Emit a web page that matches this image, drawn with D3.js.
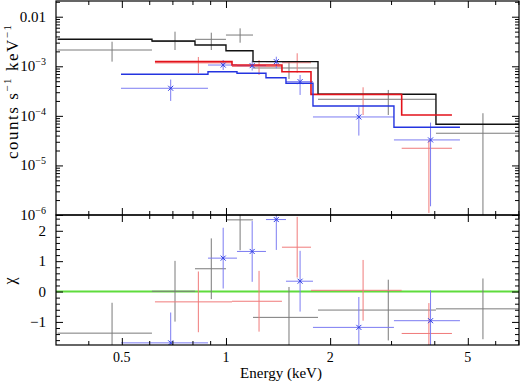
<!DOCTYPE html>
<html>
<head>
<meta charset="utf-8">
<script src="https://cdn.jsdelivr.net/npm/d3@7"></script>
<style>
body { margin: 0; background: #fff; }
svg { display: block; }
text { font-family: "Liberation Serif", "Times New Roman", serif; font-size: 14px; fill: #000; }
</style>
</head>
<body>
<div id="chart"></div>
<script>

// bin edges (keV), model, data rate with error bounds, and chi residuals
var blackEdges = [0.326, 0.611, 0.8136, 1.0, 1.197, 1.845, 4.045, 7.015];
var blackModel = [3.50e-3, 3.24e-3, 2.69e-3, 2.06e-3, 1.24e-3, 2.73e-4, 6.77e-5];
var blackRate  = [2.13e-3, 3.16e-3, 3.50e-3, 4.27e-3, 9.24e-4, 2.16e-4, 4.46e-5];
var blackLo    = [1.24e-3, 2.13e-3, 2.13e-3, 2.99e-3, 5.55e-4, 1.04e-4, 1e-8];
var blackHi    = [3.13e-3, 4.99e-3, 4.76e-3, 5.83e-3, 1.28e-3, 3.33e-4, 1.13e-4];
var blackChi   = [-1.37, 0.01, 0.75, 2.36, -0.85, -0.61, -0.57];

var redEdges = [0.6233, 1.0408, 1.4514, 1.7608, 3.22, 4.499];
var redModel = [1.24e-3, 1.06e-3, 7.78e-4, 2.70e-4, 1.04e-4];
var redRate  = [1.17e-3, 9.91e-4, 1.18e-3, 2.77e-4, 2.22e-5];
var redLo    = [7.33e-4, 6.68e-4, 7.43e-4, 1.04e-4, 1.1e-6];
var redHi    = [1.54e-3, 1.34e-3, 1.83e-3, 3.77e-4, 3.27e-5];
var redChi   = [-0.34, -0.32, 1.46, 0.04, -1.38];

var blueEdges = [0.4972, 0.8871, 1.076, 1.305, 1.4907, 1.7842, 3.0585, 4.7457];
var blueModel = [6.90e-4, 7.78e-4, 7.23e-4, 5.89e-4, 4.54e-4, 1.58e-4, 5.89e-5];
var blueRate  = [3.60e-4, 1.06e-3, 1.03e-3, 1.24e-3, 4.90e-4, 9.50e-5, 3.27e-5];
var blueLo    = [2.0e-4, 8.42e-4, 8.2e-4, 9.12e-4, 2.64e-4, 4.0e-5, 1.5e-6];
var blueHi    = [5.4e-4, 1.34e-3, 1.3e-3, 1.56e-3, 6.68e-4, 1.5e-4, 7.3e-5];
var blueChi   = [-1.69, 1.10, 1.32, 2.37, 0.34, -1.18, -0.96];

// axis ticks
var xMajor = [0.5, 1, 2, 5];
var xMajorLabels = ["0.5", "1", "2", "5"];
var xMinor = [0.4, 0.6, 0.7, 0.8, 0.9, 3, 4, 6, 7];
var yMajor = [1e-2, 1e-3, 1e-4, 1e-5, 1e-6];
var yMajorExp = [null, "\u22123", "\u22124", "\u22125", "\u22126"];
var chiMajor = [-1, 0, 1, 2];
var chiLabels = ["\u22121", "0", "1", "2"];

var width = 520, height = 381;
var plotL = 56, plotR = 519, plotT = 1, plotM = 215, plotB = 345;

var svg = d3.select("#chart").append("svg")
    .attr("width", width)
    .attr("height", height);

var x = d3.scaleLog().domain([0.3226, 7.03]).range([plotL, plotR]);
var yTop = d3.scaleLog().domain([1e-6, 0.02075]).range([plotM, plotT]);
var yChi = d3.scaleLinear().domain([-1.76, 2.52]).range([plotB, plotM]);

var defs = svg.append("defs");
defs.append("clipPath").attr("id", "clipTop").append("rect")
    .attr("x", plotL).attr("y", plotT).attr("width", plotR - plotL).attr("height", plotM - plotT);
defs.append("clipPath").attr("id", "clipBot").append("rect")
    .attr("x", plotL).attr("y", plotM).attr("width", plotR - plotL).attr("height", plotB - plotM);

var series = [
    {edges: blackEdges, model: blackModel, rate: blackRate, lo: blackLo, hi: blackHi, chi: blackChi,
     data: "#7a7a7a", line: "#111", lw: 1.4, marker: false},
    {edges: redEdges, model: redModel, rate: redRate, lo: redLo, hi: redHi, chi: redChi,
     data: "#f07a7a", line: "#e3121b", lw: 1.6, marker: false},
    {edges: blueEdges, model: blueModel, rate: blueRate, lo: blueLo, hi: blueHi, chi: blueChi,
     data: "#7c7cf2", line: "#2434e0", lw: 1.4, marker: true}
];

var gTop = svg.append("g").attr("clip-path", "url(#clipTop)");
var gBot = svg.append("g").attr("clip-path", "url(#clipBot)");

// green zero line
var zeroLine = d3.line().x(function(d) { return x(d[0]); }).y(function(d) { return yChi(d[1]); });
gBot.append("path")
    .attr("d", zeroLine([[x.domain()[0], 0], [x.domain()[1], 0]]))
    .attr("stroke", "#5fdc3c")
    .attr("stroke-width", 2)
    .attr("fill", "none");

function center(s, i) { return (s.edges[i] + s.edges[i + 1]) / 2; }

series.forEach(function(s) {
    s.rate.forEach(function(v, i) {
        // spectrum cross
        gTop.append("line")
            .attr("x1", x(s.edges[i])).attr("x2", x(s.edges[i + 1]))
            .attr("y1", yTop(v)).attr("y2", yTop(v))
            .attr("stroke", s.data).attr("stroke-width", 1);
        gTop.append("line")
            .attr("x1", x(center(s, i))).attr("x2", x(center(s, i)))
            .attr("y1", Math.min(yTop(s.lo[i]), 400)).attr("y2", yTop(s.hi[i]))
            .attr("stroke", s.data).attr("stroke-width", 1);

        // residual cross
        var c = s.chi[i];
        gBot.append("line")
            .attr("x1", x(s.edges[i])).attr("x2", x(s.edges[i + 1]))
            .attr("y1", yChi(c)).attr("y2", yChi(c))
            .attr("stroke", s.data).attr("stroke-width", 1);
        gBot.append("line")
            .attr("x1", x(center(s, i))).attr("x2", x(center(s, i)))
            .attr("y1", yChi(c - 1)).attr("y2", yChi(c + 1))
            .attr("stroke", s.data).attr("stroke-width", 1);
    });
});

// model step lines
var step = d3.line()
    .curve(d3.curveStepAfter)
    .x(function(d) { return x(d[0]); })
    .y(function(d) { return yTop(d[1]); });

series.forEach(function(s) {
    var pts = s.edges.map(function(e, i) {
        return [e, s.model[Math.min(i, s.model.length - 1)]];
    });
    gTop.append("path")
        .attr("d", step(pts))
        .attr("fill", "none")
        .attr("stroke", s.line)
        .attr("stroke-width", s.lw);
});

// blue x markers
series.filter(function(s) { return s.marker; }).forEach(function(s) {
    s.rate.forEach(function(v, i) {
        var cx = x(center(s, i));
        [[gTop, yTop(v)], [gBot, yChi(s.chi[i])]].forEach(function(p) {
            p[0].append("path")
                .attr("d", "M" + (cx - 2.5) + "," + (p[1] - 2.5) + "L" + (cx + 2.5) + "," + (p[1] + 2.5) +
                           "M" + (cx - 2.5) + "," + (p[1] + 2.5) + "L" + (cx + 2.5) + "," + (p[1] - 2.5))
                .attr("stroke", "#2c3ce6").attr("stroke-width", 1).attr("fill", "none");
        });
    });
});

// ticks (inward) on all sides of both panels
function noDomain(g) { g.select(".domain").remove(); g.selectAll("line").attr("stroke", "#000"); }

function xTicks(axisFn, ypos, vals, len) {
    svg.append("g").attr("transform", "translate(0," + ypos + ")")
        .call(axisFn(x).tickValues(vals).tickSize(-len).tickFormat(""))
        .call(noDomain);
}
[[d3.axisTop, plotT], [d3.axisBottom, plotM], [d3.axisTop, plotM], [d3.axisBottom, plotB]].forEach(function(a) {
    xTicks(a[0], a[1], xMajor, 7);
    xTicks(a[0], a[1], xMinor, 4);
});

var yMinor = [];
yMajor.forEach(function(d) {
    for (var m = 2; m <= 9; m++) {
        var v = d * m;
        if (v < yTop.domain()[1]) yMinor.push(v);
    }
});
var chiMinor = d3.range(-16, 25, 2).map(function(d) { return d / 10; })
    .filter(function(d) { return Math.abs(d - Math.round(d)) > 0.01; });

function yTicks(scale, vals, len) {
    svg.append("g").attr("transform", "translate(" + plotL + ",0)")
        .call(d3.axisLeft(scale).tickValues(vals).tickSize(-len).tickFormat(""))
        .call(noDomain);
    svg.append("g").attr("transform", "translate(" + plotR + ",0)")
        .call(d3.axisRight(scale).tickValues(vals).tickSize(-len).tickFormat(""))
        .call(noDomain);
}
yTicks(yTop, yMajor, 7);
yTicks(yTop, yMinor, 4);
yTicks(yChi, chiMajor, 7);
yTicks(yChi, chiMinor, 4);

// frames
svg.append("rect").attr("x", plotL).attr("y", plotT).attr("width", plotR - plotL).attr("height", plotM - plotT)
    .attr("fill", "none").attr("stroke", "#000").attr("stroke-width", 1.2);
svg.append("rect").attr("x", plotL).attr("y", plotM).attr("width", plotR - plotL).attr("height", plotB - plotM)
    .attr("fill", "none").attr("stroke", "#000").attr("stroke-width", 1.2);

// tick labels
xMajor.forEach(function(v, i) {
    svg.append("text").attr("x", x(v)).attr("y", 362)
        .attr("text-anchor", "middle").text(xMajorLabels[i]);
});

yMajor.forEach(function(v, i) {
    var t = svg.append("text").attr("x", 46).attr("y", yTop(v) + 5)
        .attr("text-anchor", "end").style("font-size", "15px");
    if (yMajorExp[i] === null) {
        t.text("0.01");
    } else {
        t.append("tspan").text("10");
        t.append("tspan").attr("dy", -6).style("font-size", "10px").text(yMajorExp[i]);
    }
});

chiMajor.forEach(function(v, i) {
    svg.append("text").attr("x", 46).attr("y", yChi(v) + 5)
        .attr("text-anchor", "end").style("font-size", "15px").text(chiLabels[i]);
});

// axis titles
svg.append("text").attr("x", 281).attr("y", 378).attr("text-anchor", "middle")
    .style("font-size", "15px").text("Energy (keV)");

var yl = svg.append("text")
    .attr("transform", "translate(18,92) rotate(-90)")
    .attr("text-anchor", "middle")
    .style("font-size", "17px")
    .attr("textLength", 134)
    .attr("lengthAdjust", "spacing");
yl.append("tspan").text("counts s");
yl.append("tspan").attr("dy", -7).style("font-size", "11px").text("\u22121");
yl.append("tspan").attr("dy", 7).text(" keV");
yl.append("tspan").attr("dy", -7).style("font-size", "11px").text("\u22121");

svg.append("text")
    .attr("transform", "translate(15,281) rotate(-90)")
    .attr("text-anchor", "middle")
    .style("font-size", "16px")
    .text("\u03c7");

</script>
</body>
</html>
